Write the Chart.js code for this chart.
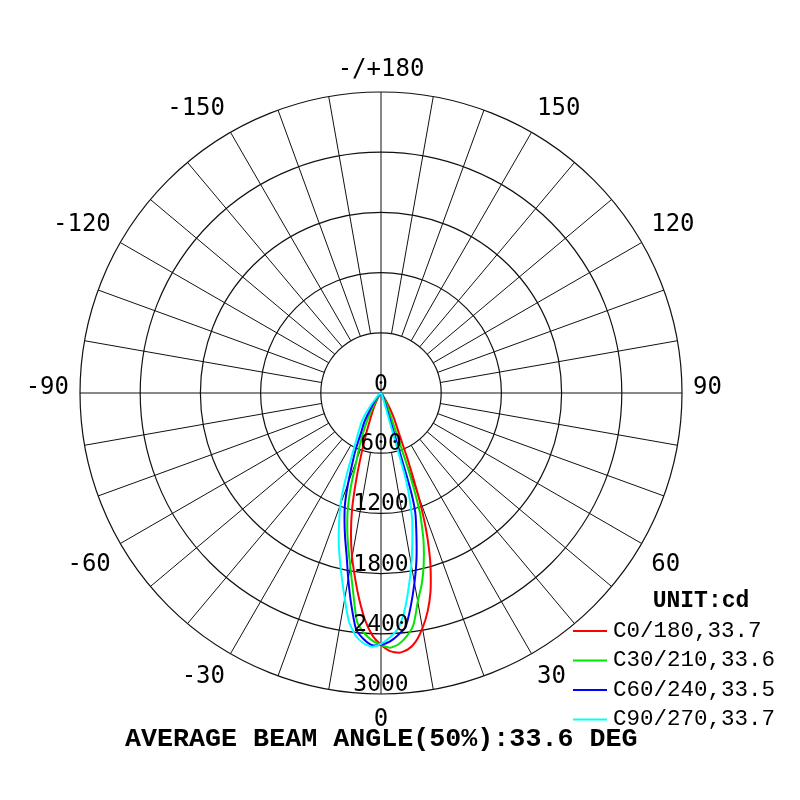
<!DOCTYPE html>
<html>
<head>
<meta charset="utf-8">
<title>Polar candela diagram</title>
<script src="https://cdn.jsdelivr.net/npm/chart.js@4.4.1/dist/chart.umd.min.js"></script>
<style>
  html, body { margin: 0; padding: 0; background: #fff; }
  #wrap { width: 800px; height: 800px; }
</style>
</head>
<body>
<div id="wrap"><canvas id="polar" width="800" height="800"></canvas></div>
<script>
// gamma angle in degrees, negative = left half of the C-plane
const gammaDeg = [-90, -60, -45, -40, -35, -30, -27, -24, -22, -20, -18, -16, -14, -12, -10, -8, -6, -4, -2, 0,
  2, 4, 6, 8, 10, 12, 14, 16, 17, 18, 19, 20, 22, 24, 27, 30, 35, 40, 45, 60, 90];

// intensities in cd
const c0_180 = [0, 5, 10, 20, 40, 80, 140, 220, 300, 440, 620, 890, 1190, 1440, 1660, 1860, 2070, 2270, 2420, 2510,
  2575, 2595, 2570, 2500, 2380, 2230, 2040, 1790, 1640, 1480, 1290, 1080, 700, 440, 290, 170, 60, 25, 12, 5, 0];
const c30_210 = [0, 5, 15, 30, 70, 170, 290, 450, 570, 710, 960, 1200, 1390, 1570, 1760, 2000, 2290, 2400, 2470, 2510,
  2540, 2510, 2440, 2330, 2110, 1950, 1760, 1540, 1400, 1260, 1000, 700, 300, 190, 120, 70, 30, 15, 8, 3, 0];
const c60_240 = [0, 10, 40, 70, 150, 330, 430, 630, 770, 960, 1160, 1320, 1480, 1650, 1880, 2130, 2370, 2460, 2515, 2510,
  2480, 2420, 2345, 2140, 1920, 1700, 1460, 1240, 1000, 450, 230, 170, 110, 80, 50, 30, 15, 8, 5, 2, 0];
const c90_270 = [0, 15, 60, 150, 320, 450, 560, 760, 970, 1180, 1350, 1530, 1700, 1880, 2080, 2300, 2430, 2500, 2530, 2500,
  2440, 2360, 2200, 1970, 1740, 1500, 1280, 900, 250, 150, 110, 80, 50, 35, 20, 12, 6, 3, 2, 0, 0];

const planeNames = ["C0/180,33.7", "C30/210,33.6", "C60/240,33.5", "C90/270,33.7"];
const ringValues = [600, 1200, 1800, 2400, 3000];
const angleTicks = [180, 150, 120, 90, 60, 30, 0, -30, -60, -90, -120, -150];
const angleTickLabels = ["-/+180", "150", "120", "90", "60", "30", "0", "-30", "-60", "-90", "-120", "-150"];
const unitText = "UNIT:cd";
const beamText = "AVERAGE BEAM ANGLE(50%):33.6 DEG";

const maxCd = 3000;
const rad = (d) => d * Math.PI / 180;

// polar (gamma, cd) -> plane coordinates in cd, gamma 0 pointing down
function toXY(values) {
  return values.map((v, i) => ({
    x: v * Math.sin(rad(gammaDeg[i])),
    y: -v * Math.cos(rad(gammaDeg[i])),
  }));
}

const MONO = "'DejaVu Sans Mono', monospace";
const COURIER = "'Liberation Mono', 'Courier New', monospace";

const polarGrid = {
  id: "polarGrid",
  beforeDatasetsDraw(chart) {
    const { ctx, scales } = chart;
    const cx = scales.x.getPixelForValue(0);
    const cy = scales.y.getPixelForValue(0);
    const px = (v) => scales.x.getPixelForValue(v) - cx;
    ctx.save();
    ctx.strokeStyle = "#111";
    ctx.lineWidth = 1.2;
    ringValues.forEach((r) => {
      ctx.beginPath();
      ctx.arc(cx, cy, px(r), 0, Math.PI * 2);
      ctx.stroke();
    });
    ctx.lineWidth = 1;
    for (let a = -170; a <= 180; a += 10) {
      const inner = a % 90 === 0 ? 0 : px(ringValues[0]);
      const outer = px(maxCd);
      const s = Math.sin(rad(a)), c = Math.cos(rad(a));
      ctx.beginPath();
      ctx.moveTo(cx + inner * s, cy + inner * c);
      ctx.lineTo(cx + outer * s, cy + outer * c);
      ctx.stroke();
    }
    ctx.restore();
  },
  afterDatasetsDraw(chart) {
    const { ctx, scales } = chart;
    const cx = scales.x.getPixelForValue(0);
    const cy = scales.y.getPixelForValue(0);
    const px = (v) => scales.x.getPixelForValue(v) - cx;
    const R = px(maxCd);
    ctx.save();
    ctx.fillStyle = "#000";

    // ring values along the lower axis
    ctx.font = "23px " + MONO;
    ctx.textAlign = "center";
    ctx.textBaseline = "alphabetic";
    ctx.fillText("0", cx, cy - 2);
    ringValues.forEach((r) => ctx.fillText(String(r), cx, cy + px(r) - 3));

    // gamma labels round the outside
    ctx.font = "24px " + MONO;
    ctx.textBaseline = "middle";
    angleTicks.forEach((t, i) => {
      const s = Math.sin(rad(t)), c = Math.cos(rad(t));
      let y = cy + (R + 27) * c;
      if (Math.abs(t) === 60) y += 8;
      if (Math.abs(t) === 120) y -= 4;
      if (Math.abs(t) === 90) y -= 5;
      if (t === 0 || Math.abs(t) === 180) {
        ctx.textAlign = "center";
        ctx.fillText(angleTickLabels[i], cx, t === 0 ? y - 1 : y + 5);
      } else {
        ctx.textAlign = t > 0 ? "left" : "right";
        ctx.fillText(angleTickLabels[i], cx + (R + 11) * s, y);
      }
    });

    // legend
    ctx.font = "bold 23px " + COURIER;
    ctx.textAlign = "center";
    ctx.fillText(unitText, 701, 601);
    ctx.font = "22.5px " + COURIER;
    ctx.textAlign = "left";
    chart.data.datasets.forEach((ds, i) => {
      const y = 631 + i * 29.5;
      ctx.strokeStyle = ds.borderColor;
      ctx.lineWidth = 2;
      ctx.beginPath();
      ctx.moveTo(573, y);
      ctx.lineTo(607, y);
      ctx.stroke();
      ctx.fillText(ds.label, 613, y);
    });

    ctx.font = "bold 26.7px " + COURIER;
    ctx.textAlign = "left";
    ctx.fillText(beamText, 125, 739);
    ctx.restore();
  },
};

const colors = ["#ff0000", "#00e600", "#0000ff", "#00ffff"];
const series = [c0_180, c30_210, c60_240, c90_270];

new Chart(document.getElementById("polar").getContext("2d"), {
  type: "scatter",
  data: {
    datasets: series.map((vals, i) => ({
      label: planeNames[i],
      data: toXY(vals),
      showLine: true,
      borderColor: colors[i],
      backgroundColor: colors[i],
      borderWidth: 2,
      pointRadius: 0,
      tension: 0.2,
      order: series.length - i,
    })),
  },
  options: {
    responsive: false,
    animation: false,
    layout: { padding: { left: 80, right: 118, top: 92, bottom: 106 } },
    plugins: { legend: { display: false }, tooltip: { enabled: false } },
    scales: {
      x: { type: "linear", min: -maxCd, max: maxCd, display: false },
      y: { type: "linear", min: -maxCd, max: maxCd, display: false },
    },
  },
  plugins: [polarGrid],
});
</script>
</body>
</html>
